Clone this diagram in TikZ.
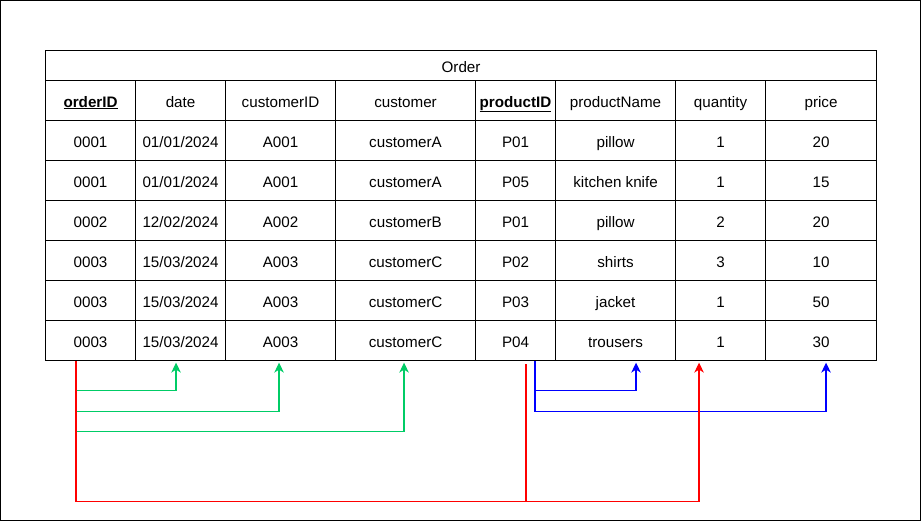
\documentclass[tikz,border=0pt]{standalone}
\usepackage{fontspec}
\setmainfont{Liberation Sans}
\usetikzlibrary{arrows.meta}
\definecolor{fkgreen}{HTML}{00CC66}
\definecolor{fkblue}{HTML}{0000FF}
\definecolor{fkred}{HTML}{FF0000}

\begin{document}
\begin{tikzpicture}[x=1pt, y=-1pt,
    cell/.style={draw, line width=1.1pt, inner sep=0pt, anchor=north west,
        minimum height=40pt, text height=14.5pt, text depth=1.5pt,
        font=\fontsize{15.2}{18}\selectfont},
    link/.style={line width=1.2pt, shorten >=1.5pt,
        -{Stealth[length=10pt,width=9.5pt,inset=3pt]}}]
    \useasboundingbox (0,0) rectangle (921,521);
    \draw[line width=1pt] (0.5,0.5) rectangle (920,520);

    \def\colx{{45,135,225,335,475,555,675,765}}
    \def\colw{{90,90,110,140,80,120,90,111}}

    \node[cell, minimum width=831pt, minimum height=30pt] (title) at (45,50) {Order};
    \foreach \row [count=\r from 0] in {
        {{\underline{\textbf{orderID}}},date,customerID,customer,{\underline{\textbf{productID}}},productName,quantity,price},
        {0001,01/01/2024,A001,customerA,P01,pillow,1,20},
        {0001,01/01/2024,A001,customerA,P05,kitchen knife,1,15},
        {0002,12/02/2024,A002,customerB,P01,pillow,2,20},
        {0003,15/03/2024,A003,customerC,P02,shirts,3,10},
        {0003,15/03/2024,A003,customerC,P03,jacket,1,50},
        {0003,15/03/2024,A003,customerC,P04,trousers,1,30}} {
      \foreach \txt [count=\c] in \row {
        \pgfmathsetmacro\cx{\colx[\c-1]}
        \pgfmathsetmacro\cw{\colw[\c-1]}
        \node[cell, minimum width=\cw pt] (c\r-\c) at (\cx,80+40*\r) {\txt};
      }
    }

    % orderID -> date, customerID, customer
    \draw[link, fkgreen] ([xshift=-14.5pt]c6-1.south) |- ([xshift=-4.5pt,yshift=-29.5pt]c6-2.south) -- ([xshift=-4.5pt]c6-2.south);
    \draw[link, fkgreen] ([xshift=-14.5pt]c6-1.south) |- ([xshift=-1.5pt,yshift=-50.5pt]c6-3.south) -- ([xshift=-1.5pt]c6-3.south);
    \draw[link, fkgreen] ([xshift=-14.5pt]c6-1.south) |- ([xshift=-1.5pt,yshift=-70.5pt]c6-4.south) -- ([xshift=-1.5pt]c6-4.south);

    % productID -> productName, price
    \draw[link, fkblue] ([xshift=19.5pt]c6-5.south) |- ([xshift=20.5pt,yshift=-29.5pt]c6-6.south) -- ([xshift=20.5pt]c6-6.south);
    \draw[link, fkblue] ([xshift=19.5pt]c6-5.south) |- ([xshift=5pt,yshift=-50.5pt]c6-8.south) -- ([xshift=5pt]c6-8.south);

    % orderID + productID -> quantity
    \draw[link, fkred] ([xshift=-14.5pt]c6-1.south) |- ([xshift=-21.5pt,yshift=-140.5pt]c6-7.south) -- ([xshift=-21.5pt]c6-7.south);
    \draw[fkred, line width=1.2pt, shorten <=3pt] ([xshift=10.5pt]c6-5.south) -- ([xshift=10.5pt,yshift=-140.5pt]c6-5.south);
\end{tikzpicture}
\end{document}
